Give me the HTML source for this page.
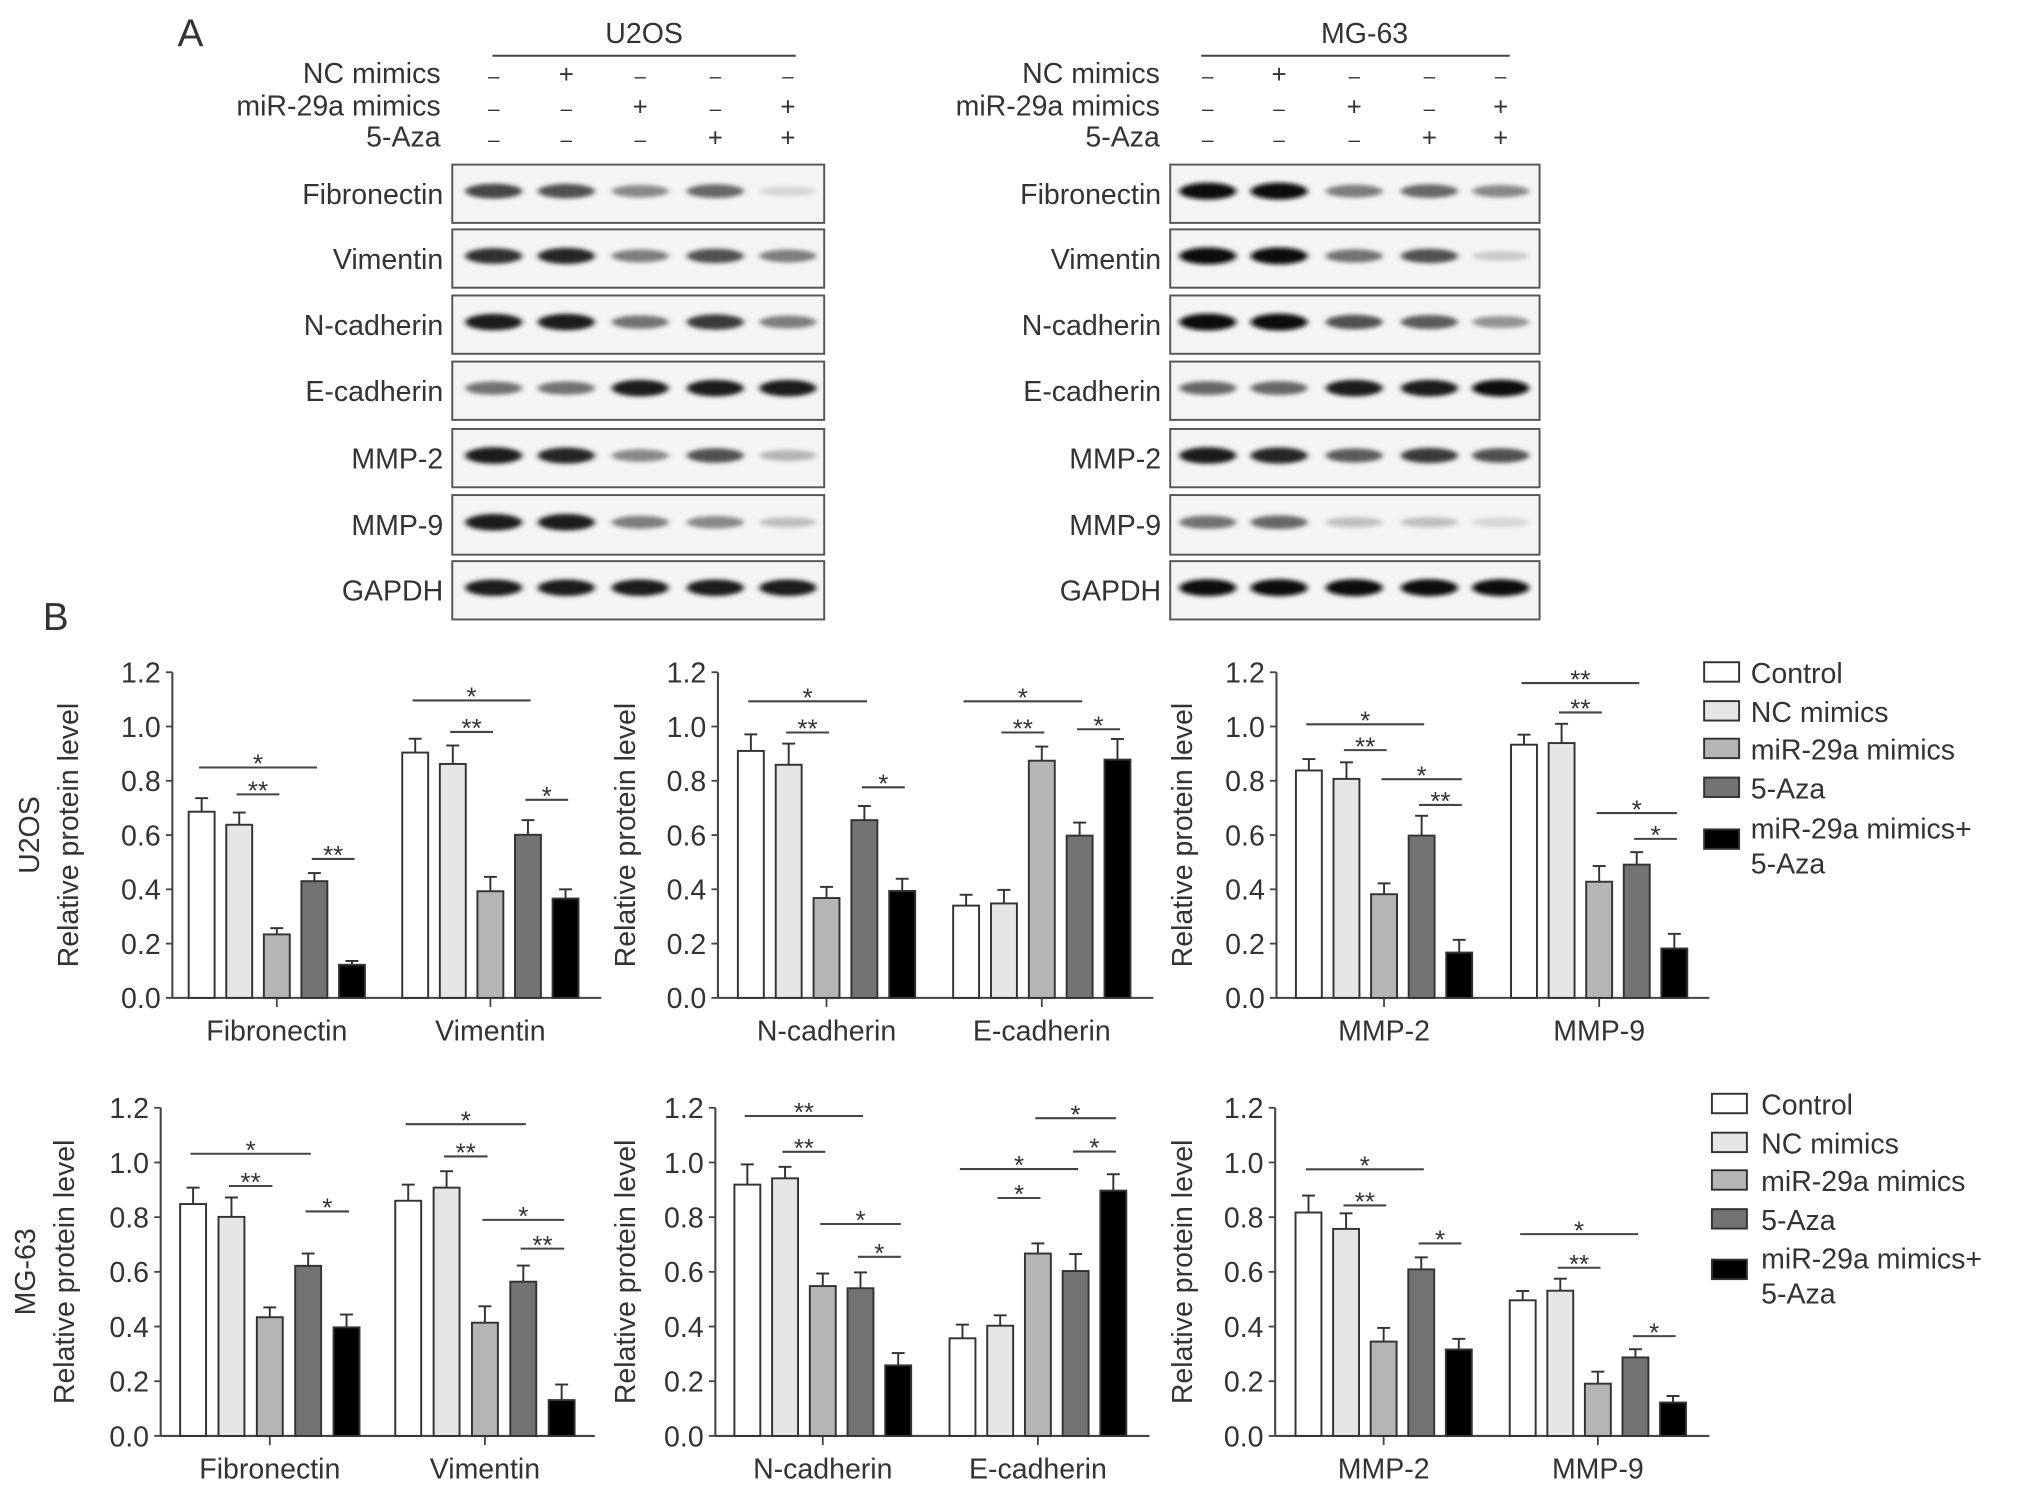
<!DOCTYPE html>
<html><head><meta charset="utf-8"><title>Western blot and quantification</title>
<style>html,body{margin:0;padding:0;background:#fff}svg{display:block}text{font-family:"Liberation Sans",Arial,sans-serif;fill:#333}</style></head>
<body>
<svg id="fig" width="2032" height="1491" viewBox="0 0 1568 1150.5" preserveAspectRatio="none" xmlns="http://www.w3.org/2000/svg">
<defs><filter id="blur" x="-30%" y="-100%" width="160%" height="300%"><feGaussianBlur stdDeviation="2.2 1.6"/></filter></defs>
<g id="root"></g>
</svg>
<script>
// ---------- Blot data (band intensities 0..1) ----------
const blotProteins = ["Fibronectin","Vimentin","N-cadherin","E-cadherin","MMP-2","MMP-9","GAPDH"];
const u2osBands = [[0.75,0.7,0.45,0.6,0.1],[0.85,0.9,0.5,0.7,0.5],[0.95,0.95,0.55,0.8,0.5],[0.55,0.55,0.95,0.95,0.95],[0.95,0.9,0.45,0.7,0.25],[0.95,0.95,0.5,0.45,0.2],[0.95,0.95,0.95,0.95,0.95]];
const mg63Bands = [[1,1,0.5,0.6,0.45],[1,1,0.55,0.7,0.15],[1,1,0.7,0.65,0.4],[0.6,0.6,0.95,0.95,1],[0.95,0.9,0.65,0.8,0.7],[0.55,0.6,0.2,0.2,0.1],[1,1,1,1,1]];
const treatLabels = ["NC mimics","miR-29a mimics","5-Aza"];
const treatSigns = [["–","+","–","–","–"],["–","–","+","–","+"],["–","–","–","+","+"]];

// ---------- Bar chart data ----------
const groupNames = ["Control","NC mimics","miR-29a mimics","5-Aza","miR-29a mimics+ 5-Aza"];
const catsA = ["Fibronectin","Vimentin"];
const catsB = ["N-cadherin","E-cadherin"];
const catsC = ["MMP-2","MMP-9"];
const yTicks = ["0.0","0.2","0.4","0.6","0.8","1.0","1.2"];
const u2osFibVim = [[0.686,0.638,0.234,0.43,0.122],[0.904,0.862,0.393,0.601,0.366]];
const u2osFibVimErr = [[0.05,0.045,0.023,0.03,0.014],[0.051,0.068,0.053,0.054,0.034]];
const u2osCad = [[0.91,0.859,0.368,0.655,0.394],[0.34,0.348,0.874,0.598,0.878]];
const u2osCadErr = [[0.061,0.078,0.041,0.052,0.045],[0.04,0.05,0.052,0.048,0.076]];
const u2osMmp = [[0.838,0.807,0.382,0.598,0.167],[0.933,0.939,0.428,0.491,0.182]];
const u2osMmpErr = [[0.042,0.061,0.04,0.073,0.047],[0.037,0.071,0.058,0.046,0.054]];
const mg63FibVim = [[0.848,0.801,0.434,0.622,0.397],[0.86,0.908,0.414,0.564,0.131]];
const mg63FibVimErr = [[0.06,0.071,0.036,0.045,0.047],[0.059,0.06,0.06,0.059,0.057]];
const mg63Cad = [[0.919,0.942,0.548,0.54,0.258],[0.357,0.403,0.667,0.603,0.897]];
const mg63CadErr = [[0.074,0.042,0.046,0.058,0.045],[0.05,0.038,0.037,0.062,0.06]];
const mg63Mmp = [[0.817,0.757,0.345,0.609,0.316],[0.496,0.531,0.191,0.287,0.122]];
const mg63MmpErr = [[0.062,0.057,0.05,0.044,0.039],[0.034,0.044,0.044,0.03,0.024]];
// significance: [category, barFrom, barTo, level, label]
const sigU2osFibVim = [[0,0,3,0.849,"*"],[0,1,2,0.75,"**"],[0,3,4,0.512,"**"],[1,0,3,1.096,"*"],[1,1,2,0.98,"**"],[1,3,4,0.73,"*"]];
const sigU2osCad = [[0,0,3,1.093,"*"],[0,1,2,0.978,"**"],[0,3,4,0.776,"*"],[1,0,3,1.093,"*"],[1,1,2,0.978,"**"],[1,3,4,0.99,"*"]];
const sigU2osMmp = [[0,0,3,1.008,"*"],[0,1,2,0.913,"**"],[0,2,4,0.806,"*"],[0,3,4,0.711,"**"],[1,0,3,1.16,"**"],[1,1,2,1.052,"**"],[1,2,4,0.681,"*"],[1,3,4,0.586,"*"]];
const sigMg63FibVim = [[0,0,3,1.032,"*"],[0,1,2,0.914,"**"],[0,3,4,0.821,"*"],[1,0,3,1.14,"*"],[1,1,2,1.022,"**"],[1,2,4,0.79,"*"],[1,3,4,0.685,"**"]];
const sigMg63Cad = [[0,0,3,1.17,"**"],[0,1,2,1.039,"**"],[0,2,4,0.775,"*"],[0,3,4,0.655,"*"],[1,2,4,1.162,"*"],[1,3,4,1.04,"*"],[1,0,3,0.976,"*"],[1,1,2,0.87,"*"]];
const sigMg63Mmp = [[0,0,3,0.975,"*"],[0,1,2,0.843,"**"],[0,3,4,0.704,"*"],[1,0,3,0.738,"*"],[1,1,2,0.615,"**"],[1,3,4,0.365,"*"]];

const fills = ["#ffffff","#e6e6e6","#b5b5b5","#737373","#000000"];
const NS = "http://www.w3.org/2000/svg";
const root = document.getElementById("root");
function el(tag, attrs, parent, txt){
  const e = document.createElementNS(NS, tag);
  for (const k in attrs) e.setAttribute(k, attrs[k]);
  if (txt !== undefined) e.textContent = txt;
  (parent || root).appendChild(e);
  return e;
}

// ---------- Panel letters ----------
let t = el("text",{x:137,y:36,"font-size":30});t.textContent="A";


t = el("text",{x:33,y:486,"font-size":30});t.textContent="B";



// ---------- Blots ----------
const blotRows = [[127,172],[177,222],[228,273],[279,324],[331,376],[382,428],[433,478]];
function drawBlot(name, x0, x1, lanes, bands, headerX, lineX0, lineX1, labelX){
  const g = el("g",{});
  
  
  let h = el("text",{x:headerX,y:33,"font-size":22,"text-anchor":"middle"},g,name==="u2os"?"U2OS":"MG-63");
  
  
  el("line",{x1:lineX0,x2:lineX1,y1:43,y2:43,stroke:"#444","stroke-width":1.6},g);
  const ty=[64,89,113];
  treatLabels.forEach((lb,i)=>{
    const tl = el("text",{x:labelX,y:ty[i],"font-size":22,"text-anchor":"end"},g,lb);
    
    
    treatSigns[i].forEach((s,j)=>{
      const st = el("text",{x:lanes[j],y:ty[i],"font-size":s==="+"?20:16,"text-anchor":"middle",fill:"#444"},g,s);
      
      
    });
  });
  blotRows.forEach((r,i)=>{
    const lb = el("text",{x:x0-7,y:(r[0]+r[1])/2+8,"font-size":22,"text-anchor":"end"},g,blotProteins[i]);
    
    
    const box = el("rect",{x:x0,y:r[0],width:x1-x0,height:r[1]-r[0],fill:"#f4f4f4",stroke:"#555","stroke-width":1.5},g);
    
    
    bands[i].forEach((v,j)=>{
      const c = Math.round(235 - v*220);
      const b = el("ellipse",{cx:lanes[j],cy:(r[0]+r[1])/2-2,rx:22,ry:3.5+v*3,fill:`rgb(${c},${c},${c})`,filter:"url(#blur)"},g);
      
      
    });
  });
}
drawBlot("u2os",349,636,[381,437,494,552,608],u2osBands,497,380,614,340);
drawBlot("mg63",903,1188,[932,987,1045,1103,1158],mg63Bands,1053,927,1165,895);

// ---------- Bar charts ----------
function drawChart(cfg){
  const {name, axisX, starts, sp, axisEnd, base, scale, cats, vals, errs, sigs, yLabel, cellLabel, titleX} = cfg;
  const g = el("g",{});
  
  
  const Y = v => base - v*scale;
  const top = Y(1.2);
  el("line",{x1:axisX,x2:axisX,y1:top,y2:base,stroke:"#444","stroke-width":1.6},g);
  el("line",{x1:axisX,x2:axisEnd,y1:base,y2:base,stroke:"#444","stroke-width":1.6},g);
  yTicks.forEach(tk=>{
    const v = parseFloat(tk);
    el("line",{x1:axisX-5,x2:axisX,y1:Y(v),y2:Y(v),stroke:"#444","stroke-width":1.4},g);
    const tt = el("text",{x:axisX-9,y:Y(v)+8,"font-size":22,"text-anchor":"end",fill:"#444"},g,tk);
    
    
  });
  const yt = el("text",{x:titleX,y:(top+base)/2,"font-size":22,"text-anchor":"middle",transform:`rotate(-90 ${titleX} ${(top+base)/2})`},g,yLabel);
  
  
  if (cellLabel){
    const ct = el("text",{x:titleX-30,y:(top+base)/2,"font-size":22,"text-anchor":"middle",transform:`rotate(-90 ${titleX-30} ${(top+base)/2})`},g,cellLabel);
    
    
  }
  cats.forEach((c,ci)=>{
    const mid = starts[ci] + 2*sp;
    el("line",{x1:mid,x2:mid,y1:base,y2:base+7,stroke:"#444","stroke-width":1.4},g);
    const ct = el("text",{x:mid,y:base+33,"font-size":22,"text-anchor":"middle"},g,c);
    
    
    vals[ci].forEach((v,bi)=>{
      const cx = starts[ci] + bi*sp;
      const e = errs[ci][bi];
      el("line",{x1:cx,x2:cx,y1:Y(v),y2:Y(v+e),stroke:"#333","stroke-width":1.5},g);
      el("line",{x1:cx-5,x2:cx+5,y1:Y(v+e),y2:Y(v+e),stroke:"#333","stroke-width":1.5},g);
      const r = el("rect",{x:cx-10,y:Y(v),width:20,height:v*scale,fill:fills[bi],stroke:"#333","stroke-width":1.5},g);
      
      
    });
  });
  sigs.forEach(s=>{
    const [ci,a,b,lv,lab] = s;
    const xa = starts[ci]+a*sp, xb = starts[ci]+b*sp;
    const sl = el("line",{x1:xa-2,x2:xb+2,y1:Y(lv),y2:Y(lv),stroke:"#444","stroke-width":1.6},g);
    
    
    const st = el("text",{x:(xa+xb)/2,y:Y(lv)+4,"font-size":20,"text-anchor":"middle"},g,lab);
    
    
  });
}
function drawLegend(x, tx, ys, comboY){
  const g = el("g",{});
  
  
  groupNames.forEach((nm,i)=>{
    const cy = i<4 ? ys[i] : comboY;
    const r = el("rect",{x:x,y:cy-8,width:27,height:15,fill:fills[i],stroke:"#333","stroke-width":1.5},g);
    
    
    if (i<4){
      const lt = el("text",{x:tx,y:cy+8,"font-size":22},g,nm);
      
      
    } else {
      const l1 = el("text",{x:tx,y:cy-1,"font-size":22},g,"miR-29a mimics+");
      
      
      const l2 = el("text",{x:tx,y:cy+26,"font-size":22},g,"5-Aza");
      
      
    }
  });
}
const YL = "Relative protein level";
drawChart({name:"u2os-fibronectin-vimentin-chart",axisX:133,starts:[155.6,320.4],sp:29,axisEnd:464,base:770,scale:209.4,cats:catsA,vals:u2osFibVim,errs:u2osFibVimErr,sigs:sigU2osFibVim,yLabel:YL,cellLabel:"U2OS",titleX:60});
drawChart({name:"u2os-cadherin-chart",axisX:554,starts:[579.4,745.5],sp:29.2,axisEnd:890,base:770,scale:209.4,cats:catsB,vals:u2osCad,errs:u2osCadErr,sigs:sigU2osCad,yLabel:YL,titleX:490});
drawChart({name:"u2os-mmp-chart",axisX:985,starts:[1010,1176],sp:29,axisEnd:1319,base:770,scale:209.4,cats:catsC,vals:u2osMmp,errs:u2osMmpErr,sigs:sigU2osMmp,yLabel:YL,titleX:920});
drawChart({name:"mg63-fibronectin-vimentin-chart",axisX:124,starts:[149,315],sp:29.6,axisEnd:459,base:1108,scale:211,cats:catsA,vals:mg63FibVim,errs:mg63FibVimErr,sigs:sigMg63FibVim,yLabel:YL,cellLabel:"MG-63",titleX:57});
drawChart({name:"mg63-cadherin-chart",axisX:552,starts:[576.7,742.7],sp:29.1,axisEnd:887,base:1108,scale:211,cats:catsB,vals:mg63Cad,errs:mg63CadErr,sigs:sigMg63Cad,yLabel:YL,titleX:490});
drawChart({name:"mg63-mmp-chart",axisX:984,starts:[1009.7,1175],sp:29,axisEnd:1319,base:1108,scale:211,cats:catsC,vals:mg63Mmp,errs:mg63MmpErr,sigs:sigMg63Mmp,yLabel:YL,titleX:920});
drawLegend(1315,1351,[519,549,578,608],648);
drawLegend(1321,1359,[852,882,911,941],980);
</script>
</body></html>
